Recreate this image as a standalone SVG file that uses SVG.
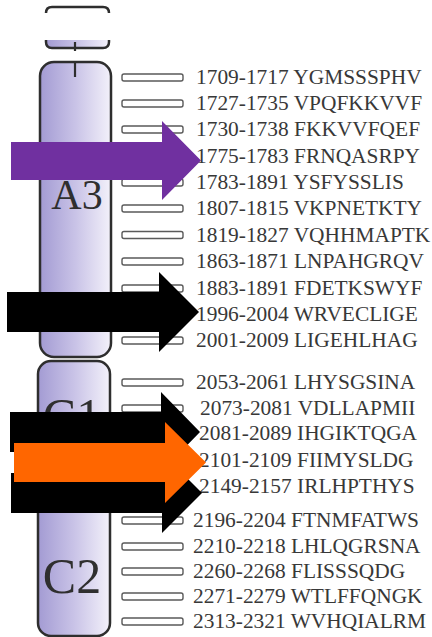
<svg xmlns="http://www.w3.org/2000/svg" width="432" height="637" viewBox="0 0 432 637">
  <defs>
    <linearGradient id="band" x1="0" y1="0" x2="1" y2="0">
      <stop offset="0" stop-color="#a39bd3"/>
      <stop offset="0.5" stop-color="#c9c3e7"/>
      <stop offset="1" stop-color="#f3f1fa"/>
    </linearGradient>
  </defs>
  <style>
    .seg { fill: url(#band); stroke: #2e2e2e; stroke-width: 2.5; }
    .edge { fill: none; stroke: #2e2e2e; stroke-width: 2.5; }
    .tick { stroke: #2e2e2e; stroke-width: 2.2; }
    .dom { font-family: "Liberation Serif", "Times New Roman", serif; fill: #2f2f2f; text-anchor: middle; }
    .pep rect { fill: #ffffff; stroke: #5a5a5a; stroke-width: 1.4; }
    .pep text { font-family: "Liberation Serif", "Times New Roman", serif; font-size: 21.4px; fill: #383838; }
  </style>
  <rect width="432" height="637" fill="#ffffff"/>

  <!-- chromosome-style domain column -->
  <g id="cap">
    <path class="edge" d="M46,13 Q46,7 52,7 L103,7 Q109,7 109,13"/>
    <path d="M46,40 L46,42 Q46,48 52,48 L103,48 Q109,48 109,42 L109,40 Z" fill="url(#band)"/>
    <path class="edge" d="M46,40 L46,42 Q46,48 52,48 L103,48 Q109,48 109,42 L109,40"/>
    <line class="tick" x1="75" y1="42" x2="75" y2="51"/>
  </g>
  <g id="A3">
    <rect class="seg" x="40" y="62" width="71" height="295" rx="14"/>
    <line class="tick" x1="75" y1="61" x2="75" y2="77"/>
    <text class="dom" x="77" y="209" font-size="42">A3</text>
  </g>
  <g id="C1C2">
    <rect class="seg" x="38" y="361" width="72" height="275" rx="13"/>
    <text class="dom" x="72" y="433" font-size="50">C1</text>
    <text class="dom" x="72" y="593" font-size="50">C2</text>
  </g>

  <!-- peptide list -->
  <g class="pep">
    <g id="p1709"><rect x="122" y="74" width="61" height="7" rx="2"/><text x="196" y="84">1709-1717 YGMSSSPHV</text></g>
    <g id="p1727"><rect x="122" y="100" width="61" height="7" rx="2"/><text x="196" y="110">1727-1735 VPQFKKVVF</text></g>
    <g id="p1730"><rect x="122" y="126" width="61" height="7" rx="2"/><text x="196" y="136">1730-1738 FKKVVFQEF</text></g>
    <g id="p1775"><rect x="122" y="152.5" width="61" height="7" rx="2"/><text x="196" y="162.5">1775-1783 FRNQASRPY</text></g>
    <g id="p1783"><rect x="122" y="179" width="61" height="7" rx="2"/><text x="196" y="189">1783-1891 YSFYSSLIS</text></g>
    <g id="p1807"><rect x="122" y="205" width="61" height="7" rx="2"/><text x="196" y="215">1807-1815 VKPNETKTY</text></g>
    <g id="p1819"><rect x="122" y="231.5" width="61" height="7" rx="2"/><text x="196" y="241.5">1819-1827 VQHHMAPTK</text></g>
    <g id="p1863"><rect x="122" y="258" width="61" height="7" rx="2"/><text x="196" y="268">1863-1871 LNPAHGRQV</text></g>
    <g id="p1883"><rect x="122" y="285" width="61" height="7" rx="2"/><text x="196" y="295">1883-1891 FDETKSWYF</text></g>
    <g id="p1996"><rect x="122" y="311" width="61" height="7" rx="2"/><text x="196" y="321">1996-2004 WRVECLIGE</text></g>
    <g id="p2001"><rect x="122" y="337" width="61" height="7" rx="2"/><text x="196" y="347">2001-2009 LIGEHLHAG</text></g>
    <g id="p2053"><rect x="122" y="379" width="61" height="7" rx="2"/><text x="196" y="389">2053-2061 LHYSGSINA</text></g>
    <g id="p2073"><rect x="122" y="405" width="61" height="7" rx="2"/><text x="200" y="415">2073-2081 VDLLAPMII</text></g>
    <g id="p2081"><rect x="122" y="430" width="61" height="7" rx="2"/><text x="199" y="440">2081-2089 IHGIKTQGA</text></g>
    <g id="p2101"><rect x="122" y="457" width="61" height="7" rx="2"/><text x="199" y="467">2101-2109 FIIMYSLDG</text></g>
    <g id="p2149"><rect x="122" y="483" width="61" height="7" rx="2"/><text x="199" y="493">2149-2157 IRLHPTHYS</text></g>
    <g id="p2196"><rect x="122" y="517" width="61" height="7" rx="2"/><text x="193" y="527">2196-2204 FTNMFATWS</text></g>
    <g id="p2210"><rect x="122" y="543" width="61" height="7" rx="2"/><text x="193" y="553">2210-2218 LHLQGRSNA</text></g>
    <g id="p2260"><rect x="122" y="568" width="61" height="7" rx="2"/><text x="193" y="578">2260-2268 FLISSSQDG</text></g>
    <g id="p2271"><rect x="122" y="593" width="61" height="7" rx="2"/><text x="193" y="603">2271-2279 WTLFFQNGK</text></g>
    <g id="p2313"><rect x="122" y="618" width="61" height="7" rx="2"/><text x="193" y="628">2313-2321 WVHQIALRM</text></g>
  </g>

  <!-- block arrows pointing at peptides -->
  <g id="arrows">
    <polygon fill="#7030a0" points="11,142 162,142 162,121 201,160.5 162,200 162,180 11,180"/>
    <polygon fill="#000000" points="7,292 159,292 159,272 199,312 159,352 159,332 7,332"/>
    <polygon fill="#000000" points="10,412 161,412 161,392 200,432 161,472 161,452 10,452"/>
    <polygon fill="#000000" points="11,473 162,473 162,453 202,493 162,533 162,513 11,513"/>
    <polygon fill="#ff6600" points="14,443 165,443 165,422 206,462.5 165,503 165,482 14,482"/>
  </g>
</svg>
